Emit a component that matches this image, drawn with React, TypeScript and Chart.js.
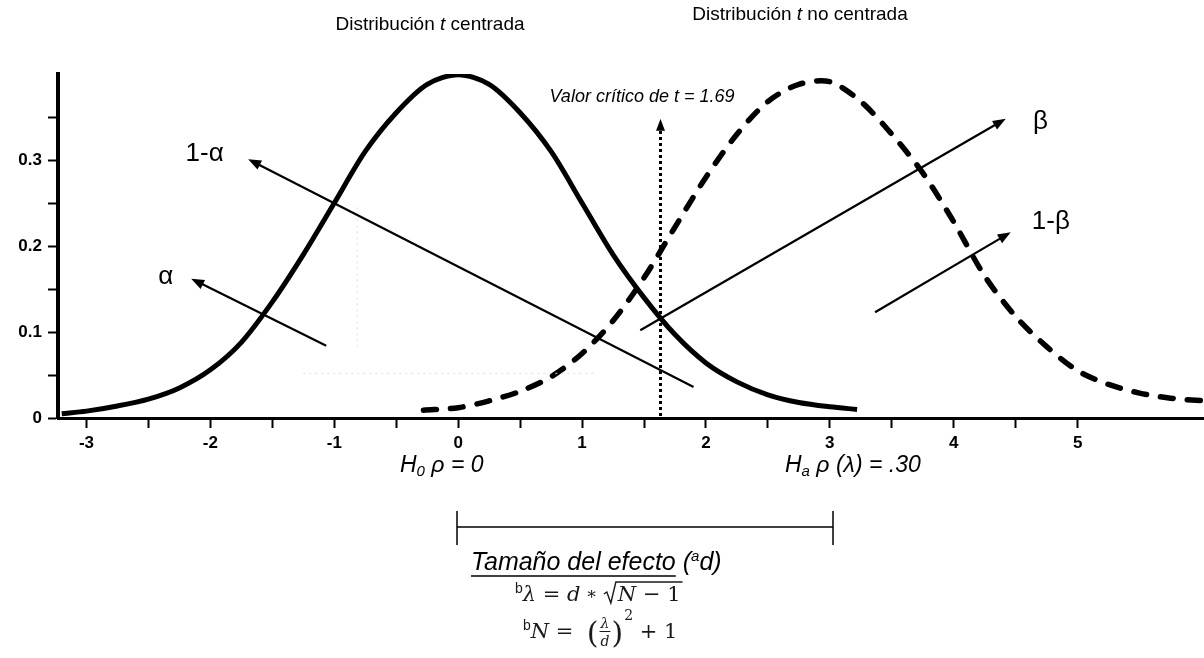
import React, { useEffect, useRef } from "react";
import { Chart, registerables } from "chart.js";

Chart.register(...registerables);

// ---------- data ----------
const xMin = -3.23;
const xMax = 6.02;
const yMin = 0;
const yMax = 0.4;

const centralX = [-3.2, -3, -2.75, -2.5, -2.25, -2, -1.75, -1.5, -1.25, -1, -0.75, -0.5, -0.25, 0, 0.25, 0.5, 0.75, 1, 1.25, 1.5, 1.75, 2, 2.25, 2.5, 2.75, 3, 3.22];
const centralY = [0.005, 0.008, 0.014, 0.022, 0.035, 0.056, 0.088, 0.135, 0.19, 0.25, 0.31, 0.355, 0.388, 0.399, 0.388, 0.355, 0.31, 0.25, 0.19, 0.14, 0.097, 0.064, 0.042, 0.027, 0.018, 0.013, 0.01];

const noncentralX = [-0.28, 0, 0.25, 0.5, 0.75, 1, 1.25, 1.5, 1.75, 2, 2.25, 2.5, 2.75, 3, 3.25, 3.5, 3.75, 4, 4.25, 4.5, 4.75, 5, 5.25, 5.5, 5.75, 6.02];
const noncentralY = [0.009, 0.012, 0.02, 0.031, 0.048, 0.075, 0.113, 0.163, 0.222, 0.28, 0.33, 0.368, 0.388, 0.391, 0.368, 0.33, 0.285, 0.228, 0.165, 0.118, 0.083, 0.055, 0.039, 0.029, 0.023, 0.02];

const xTickValues = [-3, -2.5, -2, -1.5, -1, -0.5, 0, 0.5, 1, 1.5, 2, 2.5, 3, 3.5, 4, 4.5, 5];
const yTickValues = [0, 0.05, 0.1, 0.15, 0.2, 0.25, 0.3, 0.35];

const criticalX = 1.63;
const criticalTop = 0.348;
const criticalLabel = "Valor crítico de t = 1.69";

const arrowLabels = ["1-α", "α", "β", "1-β"];
const arrowTails = [[1.9, 0.036], [-1.065, 0.084], [1.47, 0.102], [3.365, 0.123]];
const arrowHeads = [[-1.695, 0.301], [-2.155, 0.162], [4.42, 0.348], [4.46, 0.216]];
const arrowLabelPos = [[-2.2, 0.307], [-2.42, 0.164], [4.64, 0.344], [4.63, 0.228]];

const FONT = "'Liberation Sans', Arial, sans-serif";
const SERIF = "'DejaVu Serif', 'Liberation Serif', serif";

type Run = { text: string; font: string; dy?: number };

function drawRuns(ctx: CanvasRenderingContext2D, runs: Run[], x: number, y: number, align: "left" | "center") {
  let total = 0;
  for (const r of runs) {
    ctx.font = r.font;
    total += ctx.measureText(r.text).width;
  }
  let cx = align === "center" ? x - total / 2 : x;
  const start = cx;
  for (const r of runs) {
    ctx.font = r.font;
    ctx.fillText(r.text, cx, y + (r.dy || 0));
    cx += ctx.measureText(r.text).width;
  }
  return { start, end: cx };
}

function drawArrow(ctx: CanvasRenderingContext2D, x1: number, y1: number, x2: number, y2: number, lw: number, headLen: number, headHalf: number) {
  const ang = Math.atan2(y2 - y1, x2 - x1);
  const bx = x2 - Math.cos(ang) * headLen;
  const by = y2 - Math.sin(ang) * headLen;
  ctx.save();
  ctx.strokeStyle = "#000";
  ctx.fillStyle = "#000";
  ctx.lineWidth = lw;
  ctx.beginPath();
  ctx.moveTo(x1, y1);
  ctx.lineTo(bx + Math.cos(ang) * 2, by + Math.sin(ang) * 2);
  ctx.stroke();
  ctx.beginPath();
  ctx.moveTo(x2, y2);
  ctx.lineTo(bx + Math.cos(ang + Math.PI / 2) * headHalf, by + Math.sin(ang + Math.PI / 2) * headHalf);
  ctx.lineTo(bx + Math.cos(ang - Math.PI / 2) * headHalf, by + Math.sin(ang - Math.PI / 2) * headHalf);
  ctx.closePath();
  ctx.fill();
  ctx.restore();
}

const annotationPlugin = {
  id: "annotations",
  afterDatasetsDraw(chart: any) {
    const ctx: CanvasRenderingContext2D = chart.ctx;
    const xs = chart.scales.x;
    const ys = chart.scales.y;
    const px = (v: number) => xs.getPixelForValue(v);
    const py = (v: number) => ys.getPixelForValue(v);

    // faint dotted guide lines
    ctx.save();
    ctx.strokeStyle = "#dddddd";
    ctx.lineWidth = 1;
    ctx.setLineDash([2, 4]);
    ctx.beginPath();
    ctx.moveTo(px(-0.815), py(0.245));
    ctx.lineTo(px(-0.815), py(0.08));
    ctx.moveTo(px(-1.25), py(0.052));
    ctx.lineTo(px(1.1), py(0.052));
    ctx.stroke();
    ctx.restore();

    // arrows
    for (let i = 0; i < arrowLabels.length; i++) {
      const t = arrowTails[i];
      const h = arrowHeads[i];
      drawArrow(ctx, px(t[0]), py(t[1]), px(h[0]), py(h[1]), 2.2, 13, 5);
      ctx.save();
      ctx.fillStyle = "#000";
      ctx.textBaseline = "middle";
      ctx.textAlign = "left";
      ctx.font = `26px ${FONT}`;
      ctx.fillText(arrowLabels[i], px(arrowLabelPos[i][0]), py(arrowLabelPos[i][1]));
      ctx.restore();
    }

    // critical value dotted line
    const cx = Math.round(px(criticalX)) + 0.5;
    const topY = py(criticalTop);
    ctx.save();
    ctx.strokeStyle = "#000";
    ctx.lineWidth = 3;
    ctx.setLineDash([3, 3]);
    ctx.beginPath();
    ctx.moveTo(cx, py(0) - 2);
    ctx.lineTo(cx, topY + 10);
    ctx.stroke();
    ctx.setLineDash([]);
    ctx.fillStyle = "#000";
    ctx.beginPath();
    ctx.moveTo(cx, topY);
    ctx.lineTo(cx - 4.5, topY + 12);
    ctx.lineTo(cx + 4.5, topY + 12);
    ctx.closePath();
    ctx.fill();
    ctx.restore();
  },
  afterDraw(chart: any) {
    const ctx: CanvasRenderingContext2D = chart.ctx;
    ctx.save();
    ctx.fillStyle = "#000";
    ctx.textBaseline = "middle";
    ctx.textAlign = "left";

    // titles
    const tf = `19px ${FONT}`;
    const tfi = `italic 19px ${FONT}`;
    drawRuns(ctx, [{ text: "Distribución ", font: tf }, { text: "t", font: tfi }, { text: " centrada", font: tf }], 430, 25, "center");
    drawRuns(ctx, [{ text: "Distribución ", font: tf }, { text: "t", font: tfi }, { text: " no centrada", font: tf }], 800, 15, "center");

    // critical label
    drawRuns(ctx, [{ text: criticalLabel, font: `italic 18px ${FONT}` }], 642, 97, "center");

    // hypotheses
    const hf = `italic 23px ${FONT}`;
    const hs = `italic 15px ${FONT}`;
    drawRuns(ctx, [{ text: "H", font: hf }, { text: "0", font: hs, dy: 6 }, { text: " ρ = 0", font: hf }], 400, 466, "left");
    drawRuns(ctx, [{ text: "H", font: hf }, { text: "a", font: hs, dy: 6 }, { text: " ρ (λ) = .30", font: hf }], 785, 466, "left");

    // bracket
    ctx.strokeStyle = "#000";
    ctx.lineWidth = 1.5;
    ctx.beginPath();
    ctx.moveTo(457, 527);
    ctx.lineTo(833, 527);
    ctx.moveTo(457, 511);
    ctx.lineTo(457, 545);
    ctx.moveTo(833, 511);
    ctx.lineTo(833, 545);
    ctx.stroke();

    // effect size
    const ef = `italic 25px ${FONT}`;
    const r = drawRuns(ctx, [{ text: "Tamaño del efecto", font: ef }], 471, 563, "left");
    ctx.lineWidth = 1.5;
    ctx.beginPath();
    ctx.moveTo(r.start, 576);
    ctx.lineTo(r.end, 576);
    ctx.stroke();
    drawRuns(ctx, [{ text: " (", font: ef }, { text: "a", font: `italic 15px ${FONT}`, dy: -6 }, { text: "d)", font: ef }], r.end, 563, "left");

    // formula 1
    ctx.textBaseline = "alphabetic";
    ctx.fillStyle = "#1a1a1a";
    const mi = `italic 21px ${SERIF}`;
    const mu = `21px ${SERIF}`;
    const sup = `14px ${FONT}`;
    const b1 = 601;
    const f1 = drawRuns(ctx, [
      { text: "b", font: sup, dy: -8 },
      { text: "λ", font: mi },
      { text: " = ", font: mu },
      { text: "d", font: mi },
      { text: " ∗ ", font: `17px ${SERIF}`, dy: -2 },
    ], 515, b1, "left");
    const rx = f1.end + 1;
    ctx.font = mi;
    const nW = ctx.measureText("N").width;
    ctx.font = mu;
    const restW = ctx.measureText(" − 1").width;
    ctx.strokeStyle = "#1a1a1a";
    ctx.lineWidth = 1.4;
    ctx.beginPath();
    ctx.moveTo(rx, b1 - 7);
    ctx.lineTo(rx + 3, b1 - 9);
    ctx.lineTo(rx + 7, b1 + 2);
    ctx.lineTo(rx + 12, b1 - 19);
    ctx.lineTo(rx + 14 + nW + restW + 2, b1 - 19);
    ctx.stroke();
    drawRuns(ctx, [{ text: "N", font: mi }, { text: " − 1", font: mu }], rx + 14, b1, "left");

    // formula 2
    const b2 = 638;
    const f2 = drawRuns(ctx, [
      { text: "b", font: sup, dy: -8 },
      { text: "N", font: mi },
      { text: " =  ", font: mu },
    ], 523, b2, "left");
    ctx.font = `30px ${SERIF}`;
    ctx.fillText("(", f2.end, b2 + 5);
    const pw = ctx.measureText("(").width;
    const fx = f2.end + pw + 1;
    ctx.font = `italic 14px ${SERIF}`;
    const lw = ctx.measureText("λ").width;
    const dw = ctx.measureText("d").width;
    const fw = Math.max(lw, dw) + 2;
    ctx.fillText("λ", fx + (fw - lw) / 2, b2 - 10);
    ctx.fillText("d", fx + (fw - dw) / 2, b2 + 8);
    ctx.lineWidth = 1;
    ctx.beginPath();
    ctx.moveTo(fx, b2 - 6.5);
    ctx.lineTo(fx + fw, b2 - 6.5);
    ctx.stroke();
    ctx.font = `30px ${SERIF}`;
    ctx.fillText(")", fx + fw + 1, b2 + 5);
    const cpw = ctx.measureText(")").width;
    ctx.font = `14px ${SERIF}`;
    ctx.fillText("2", fx + fw + 1 + cpw + 1, b2 - 18);
    const tw = ctx.measureText("2").width;
    drawRuns(ctx, [{ text: " + 1", font: mu }], fx + fw + 1 + cpw + 1 + tw, b2, "left");

    ctx.restore();
  },
};

export default function App() {
  const canvasRef = useRef<HTMLCanvasElement | null>(null);

  useEffect(() => {
    const canvas = canvasRef.current;
    if (!canvas) return;
    const chart = new Chart(canvas, {
      type: "line",
      data: {
        datasets: [
          {
            label: "Distribución t centrada",
            data: centralX.map((x, i) => ({ x, y: centralY[i] })),
            borderColor: "#000",
            borderWidth: 5,
            pointRadius: 0,
            tension: 0.3,
            fill: false,
          },
          {
            label: "Distribución t no centrada",
            data: noncentralX.map((x, i) => ({ x, y: noncentralY[i] })),
            borderColor: "#000",
            borderWidth: 5.5,
            borderDash: [13, 14],
            borderCapStyle: "round",
            pointRadius: 0,
            tension: 0.3,
            fill: false,
          },
        ],
      },
      options: {
        responsive: false,
        animation: false,
        devicePixelRatio: 1,
        layout: { padding: { top: 74, right: 0, bottom: 0, left: 0 } },
        plugins: {
          legend: { display: false },
          tooltip: { enabled: false },
          title: { display: false },
        },
        scales: {
          x: {
            type: "linear",
            min: xMin,
            max: xMax,
            afterBuildTicks: (s: any) => {
              s.ticks = xTickValues.map((v) => ({ value: v }));
            },
            afterFit: (s: any) => {
              s.height = 240;
            },
            grid: { drawOnChartArea: false, drawTicks: true, tickLength: 10, tickWidth: 2, tickColor: "#000" },
            border: { display: true, color: "#000", width: 3 },
            ticks: {
              autoSkip: false,
              maxRotation: 0,
              padding: 5,
              color: "#000",
              font: { family: FONT, size: 17, weight: "bold" },
              callback: (v: any) => (Number.isInteger(v) ? String(v) : ""),
            },
          },
          y: {
            type: "linear",
            min: yMin,
            max: yMax,
            afterBuildTicks: (s: any) => {
              s.ticks = yTickValues.map((v) => ({ value: v }));
            },
            afterFit: (s: any) => {
              s.width = 58;
            },
            grid: { drawOnChartArea: false, drawTicks: true, tickLength: 10, tickWidth: 2, tickColor: "#000" },
            border: { display: true, color: "#000", width: 4 },
            ticks: {
              autoSkip: false,
              padding: 6,
              color: "#000",
              font: { family: FONT, size: 17, weight: "bold" },
              callback: (v: any) => {
                const k = Math.round(v * 100);
                if (k % 10 !== 0) return "";
                return k === 0 ? "0" : (k / 100).toFixed(1);
              },
            },
          },
        },
      },
      plugins: [annotationPlugin],
    } as any);
    return () => chart.destroy();
  }, []);

  return (
    <div style={{ position: "absolute", left: 0, top: 0, width: 1204, height: 658, background: "#fff" }}>
      <canvas ref={canvasRef} width={1204} height={658} style={{ display: "block" }} />
    </div>
  );
}
